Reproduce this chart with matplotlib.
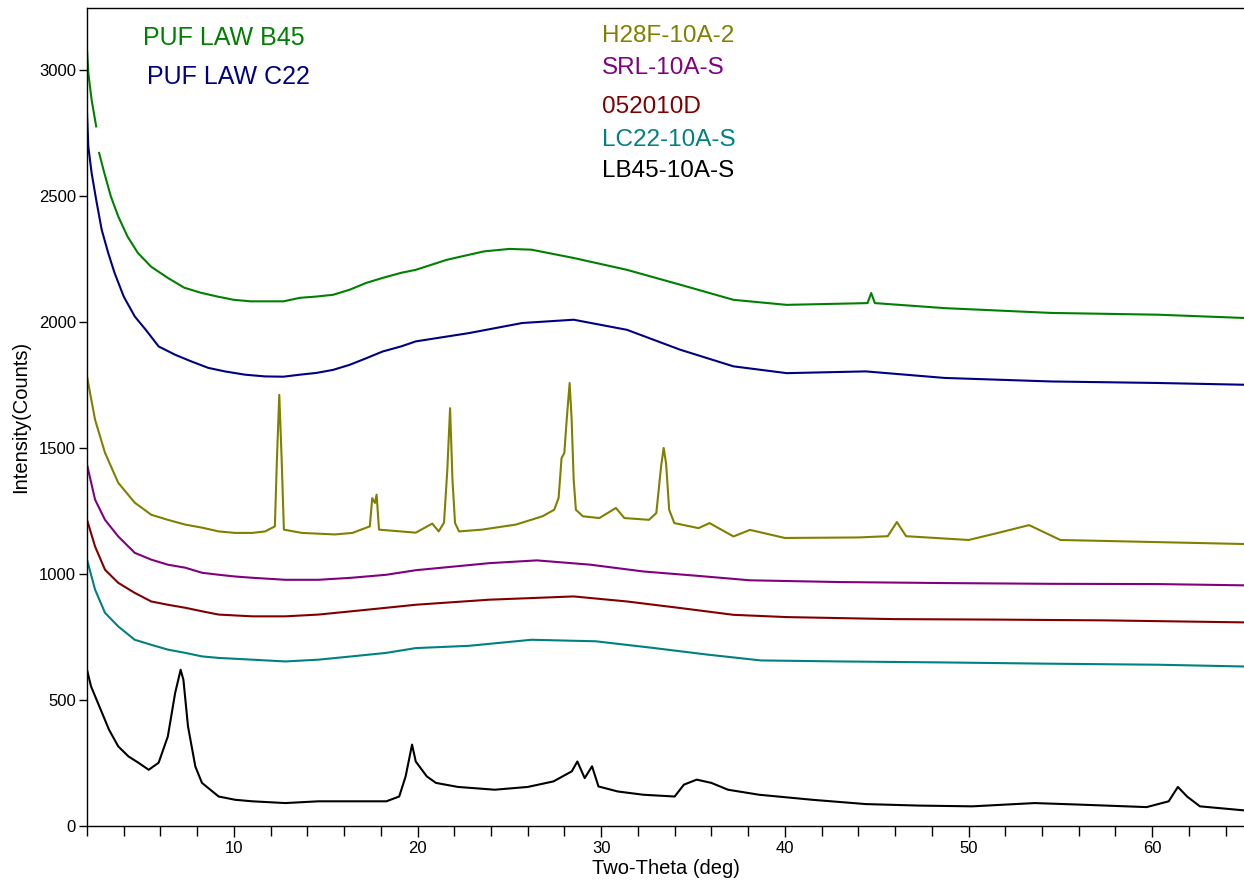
import numpy as np
import matplotlib
matplotlib.use('Agg')
import matplotlib.pyplot as plt
from matplotlib.ticker import MultipleLocator

plt.rcParams['font.family'] = ['Liberation Sans', 'DejaVu Sans']

# XRD traces, two-theta (deg) vs intensity (counts)
b45_tth = [2.0, 2.07, 2.25, 2.5, 2.58, 2.66, 2.94, 3.3, 3.7, 4.2, 4.76, 5.48, 6.4, 7.3, 8.2, 9.1,
           10.0, 10.9, 11.8, 12.7, 13.6, 14.5, 15.4, 16.3, 17.2, 18.1, 19.1, 19.9, 21.6, 23.6,
           25.0, 26.2, 28.5, 31.4, 34.3, 37.2, 40.1, 44.5, 44.7, 44.9, 48.7, 54.5, 60.3, 65.0]
b45_cts = [3080, 2989, 2882, 2776, np.nan, 2671, 2592, 2498, 2419, 2340, 2275, 2220, 2175, 2136, 2116, 2101,
           2088, 2082, 2082, 2082, 2096, 2101, 2108, 2128, 2155, 2175, 2195, 2207, 2247, 2280,
           2290, 2287, 2254, 2207, 2148, 2088, 2068, 2075, 2115, 2075, 2055, 2036, 2029, 2016]

c22_tth = [2.0, 2.07, 2.25, 2.5, 2.8, 3.15, 3.5, 4.0, 4.6, 5.2, 5.9, 6.8, 7.7, 8.6, 9.5, 10.6,
           11.7, 12.7, 13.6, 14.5, 15.4, 16.3, 17.2, 18.1, 19.1, 19.9, 22.8, 25.7, 28.5, 31.4,
           34.3, 37.2, 40.1, 44.4, 48.7, 54.5, 60.3, 65.0]
c22_cts = [2830, 2697, 2592, 2485, 2366, 2275, 2195, 2101, 2022, 1969, 1903, 1870, 1843, 1818, 1804, 1791,
           1784, 1783, 1791, 1798, 1810, 1830, 1856, 1883, 1903, 1923, 1956, 1996, 2009, 1969,
           1890, 1824, 1797, 1804, 1778, 1764, 1758, 1751]

h28f_tth = [2.0, 2.44, 2.98, 3.7, 4.6, 5.5, 6.4, 7.35, 8.26, 9.17, 10.07, 11.0, 11.7,
            12.23, 12.34, 12.47, 12.6, 12.72, 13.7, 15.5, 16.45, 17.4, 17.53, 17.68, 17.77, 17.9,
            19.9, 20.8, 21.15, 21.44, 21.62, 21.77, 21.9, 22.04, 22.26, 23.5, 25.35, 26.8,
            27.44, 27.68, 27.84, 27.99, 28.12, 28.28, 28.39, 28.5, 28.62, 29.0, 29.9, 30.8,
            31.26, 32.6, 33.0, 33.26, 33.4, 33.53, 33.7, 33.98, 35.3, 35.9, 37.2, 38.1, 40.0,
            44.0, 45.6, 46.1, 46.6, 50.0, 51.6, 53.3, 55.0, 60.0, 65.0]
h28f_cts = [1784, 1612, 1481, 1362, 1283, 1235, 1215, 1196, 1184, 1169, 1163, 1163, 1169,
            1189, 1453, 1711, 1453, 1176, 1163, 1157, 1163, 1189, 1301, 1282, 1315, 1176,
            1164, 1200, 1169, 1204, 1414, 1658, 1374, 1202, 1169, 1176, 1196, 1229,
            1255, 1302, 1460, 1480, 1612, 1758, 1612, 1374, 1255, 1229, 1222, 1262,
            1222, 1215, 1242, 1427, 1500, 1440, 1255, 1202, 1182, 1202, 1149, 1175, 1143,
            1145, 1150, 1206, 1150, 1135, 1163, 1194, 1135, 1127, 1119]

srl_tth = [2.0, 2.44, 2.98, 3.7, 4.6, 5.5, 6.4, 7.35, 8.26, 9.17, 10.07, 11.0, 12.8, 14.6,
           16.4, 18.3, 19.9, 23.9, 26.5, 29.4, 32.3, 35.2, 38.1, 43.0, 48.7, 54.5, 60.3, 65.0]
srl_cts = [1434, 1295, 1215, 1149, 1084, 1057, 1037, 1025, 1005, 997, 990, 985, 977, 977,
           985, 997, 1015, 1043, 1054, 1037, 1010, 993, 975, 968, 964, 961, 960, 955]

d052_tth = [2.0, 2.44, 2.98, 3.7, 4.6, 5.5, 6.4, 7.35, 8.26, 9.17, 11.0, 12.8, 14.6, 16.4,
            18.3, 19.9, 23.9, 28.5, 31.4, 34.3, 37.2, 40.1, 45.9, 51.6, 57.4, 65.0]
d052_cts = [1215, 1109, 1017, 965, 925, 891, 878, 866, 852, 839, 832, 832, 839, 852,
            866, 878, 898, 911, 891, 865, 838, 829, 821, 819, 816, 808]

lc22_tth = [2.0, 2.44, 2.98, 3.7, 4.6, 5.5, 6.4, 7.35, 8.26, 9.17, 11.0, 12.8, 14.6, 16.4,
            18.3, 19.9, 22.8, 26.2, 29.7, 32.9, 35.8, 38.7, 43.0, 48.7, 54.5, 60.3, 65.0]
lc22_cts = [1057, 938, 846, 792, 739, 719, 700, 687, 673, 667, 660, 653, 660, 673,
            687, 706, 715, 739, 733, 706, 680, 657, 653, 649, 644, 640, 633]

lb45_tth = [2.0, 2.22, 2.67, 3.2, 3.7, 4.26, 4.8, 5.36, 5.9, 6.4, 6.8, 7.1, 7.25, 7.5, 7.9,
            8.26, 9.17, 10.07, 11.0, 12.8, 14.6, 16.4, 18.3, 19.0, 19.35, 19.7, 19.9, 20.5,
            21.0, 22.2, 24.2, 26.0, 27.4, 28.4, 28.7, 29.1, 29.5, 29.85, 30.9, 32.3, 34.0,
            34.5, 35.2, 36.0, 36.9, 38.6, 41.5, 44.4, 47.3, 50.2, 53.6, 56.0, 59.7, 60.9,
            61.4, 61.9, 62.6, 65.0]
lb45_cts = [620, 554, 475, 382, 316, 276, 251, 223, 251, 355, 528, 620, 580, 395, 236,
            171, 117, 104, 98, 91, 98, 98, 98, 117, 197, 323, 256, 197,
            171, 155, 144, 155, 177, 217, 256, 190, 237, 157, 137, 124, 117,
            164, 184, 171, 144, 124, 104, 87, 81, 78, 91, 85, 75, 98,
            155, 117, 78, 62]

series = [
    (b45_tth, b45_cts, '#008000'),
    (c22_tth, c22_cts, '#000080'),
    (h28f_tth, h28f_cts, '#808000'),
    (srl_tth, srl_cts, '#800080'),
    (d052_tth, d052_cts, '#800000'),
    (lc22_tth, lc22_cts, '#008080'),
    (lb45_tth, lb45_cts, '#000000'),
]

# sample names written straight onto the plot
names_left = [('PUF LAW B45', '#008000', 143, 45), ('PUF LAW C22', '#000080', 147, 84)]
names_right = [('H28F-10A-2', '#808000', 42), ('SRL-10A-S', '#800080', 74),
               ('052010D', '#800000', 113), ('LC22-10A-S', '#008080', 146),
               ('LB45-10A-S', '#000000', 177)]

W, H = 1244, 882
fig = plt.figure(figsize=(W / 100, H / 100), dpi=100)
ax = fig.add_axes([87 / W, 1 - 826 / H, 1 - 87 / W, (826 - 8) / H])

for tth, cts, col in series:
    ax.plot(tth, cts, color=col, lw=1.5)

ax.set_xlim(2, 65)
ax.set_ylim(0, 3246)
ax.spines['right'].set_visible(False)
for s in ['left', 'bottom', 'top']:
    ax.spines[s].set_linewidth(1.0)

ax.xaxis.set_major_locator(MultipleLocator(10))
ax.xaxis.set_minor_locator(MultipleLocator(2))
ax.yaxis.set_major_locator(MultipleLocator(500))
ax.tick_params(axis='x', which='major', direction='out', length=8, width=1, labelsize=12, pad=3)
ax.tick_params(axis='x', which='minor', direction='out', length=7, width=1)
ax.tick_params(axis='y', which='major', direction='out', length=6, width=1, labelsize=12, pad=2)
ax.tick_params(top=False, right=False)

ax.set_xlabel('Two-Theta (deg)', fontsize=14.5, labelpad=2)
ax.set_ylabel('Intensity(Counts)', fontsize=14.5, labelpad=6)

for txt, col, px, py in names_left:
    fig.text(px / W, 1 - py / H, txt, color=col, fontsize=18, va='baseline', ha='left')
for txt, col, py in names_right:
    fig.text(602 / W, 1 - py / H, txt, color=col, fontsize=17.5, va='baseline', ha='left')

fig.savefig('out.png', dpi=100)
